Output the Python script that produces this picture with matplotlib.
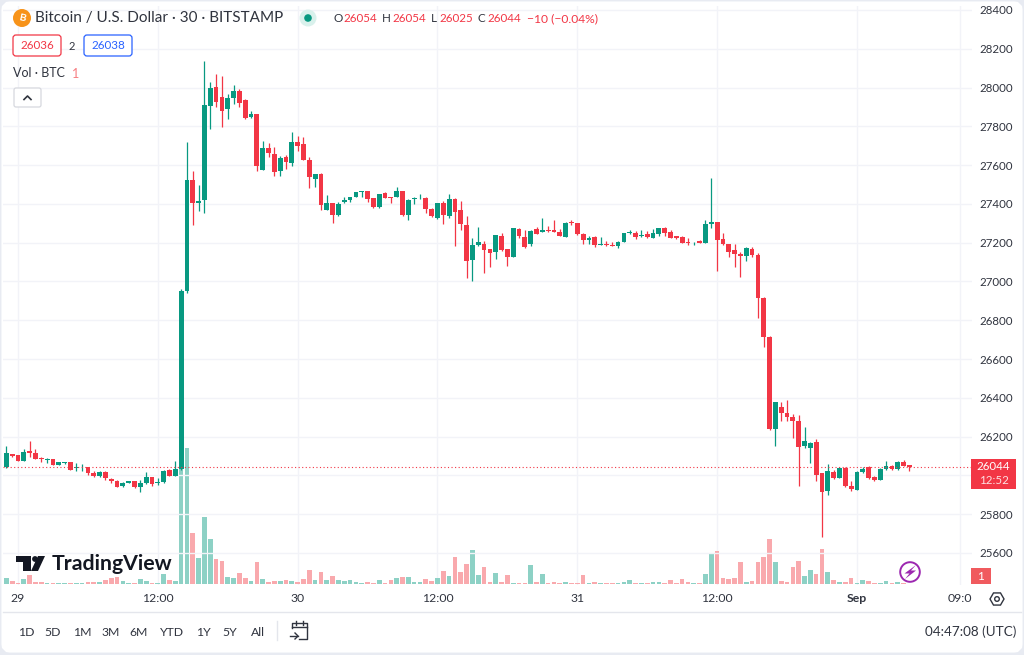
import matplotlib
matplotlib.use("Agg")
import matplotlib.pyplot as plt
from matplotlib.patches import Circle, FancyBboxPatch, Polygon, Rectangle, RegularPolygon
import numpy as np

plt.rcParams["font.family"] = ["Lato", "DejaVu Sans"]

# 30 minute candles, BTC/USD on Bitstamp
opens = [
    26045, 26110, 26103, 26074, 26124, 26114, 26091, 26081, 26083, 26055,
    26064, 26069, 26040, 26041, 26041, 26011, 25995, 26019, 25980, 25973,
    25945, 25962, 25971, 25938, 25959, 25992, 25962, 25964, 26028, 25997,
    26031, 26951, 27524, 27407, 27420, 27907, 28001, 27950, 27888, 27945,
    27983, 27936, 27850, 27864, 27575, 27690, 27659, 27570, 27640, 27613,
    27720, 27709, 27627, 27530, 27556, 27369, 27403, 27341, 27408, 27420,
    27436, 27460, 27465, 27431, 27382, 27455, 27434, 27437, 27465, 27343,
    27424, 27429, 27432, 27376, 27327, 27406, 27339, 27424, 27369, 27291,
    27109, 27186, 27195, 27166, 27150, 27235, 27166, 27128, 27271, 27231,
    27193, 27269, 27255, 27266, 27267, 27257, 27231, 27305, 27300, 27245,
    27216, 27228, 27190, 27193, 27190, 27181, 27205, 27248, 27250, 27235,
    27245, 27224, 27245, 27277, 27254, 27233, 27228, 27202, 27197, 27208,
    27200, 27298, 27305, 27219, 27192, 27161, 27140, 27130, 27169, 27137,
    26915, 26715, 26238, 26353, 26324, 26303, 26282, 26152, 26143, 26171,
    26011, 25920, 26019, 25988, 26040, 25947, 25927, 26017, 26043, 25992,
    25976, 26033, 26050, 26031, 26071, 26054,
]
highs = [
    26151, 26112, 26105, 26134, 26179, 26134, 26096, 26091, 26086, 26071,
    26071, 26071, 26066, 26057, 26045, 26024, 26021, 26024, 25988, 25976,
    25964, 25971, 25973, 25976, 26019, 25993, 25985, 26026, 26035, 26076,
    26960, 27718, 27570, 27498, 28139, 28027, 28070, 28060, 27965, 28013,
    27994, 27940, 27881, 27866, 27726, 27713, 27695, 27645, 27652, 27771,
    27752, 27747, 27640, 27556, 27558, 27446, 27405, 27408, 27437, 27437,
    27464, 27467, 27467, 27433, 27453, 27460, 27437, 27489, 27468, 27425,
    27434, 27450, 27435, 27380, 27406, 27415, 27450, 27428, 27415, 27338,
    27223, 27283, 27209, 27170, 27241, 27248, 27170, 27276, 27274, 27266,
    27265, 27279, 27326, 27288, 27317, 27269, 27305, 27317, 27303, 27248,
    27235, 27235, 27231, 27211, 27205, 27209, 27250, 27264, 27260, 27266,
    27260, 27271, 27278, 27282, 27266, 27236, 27232, 27223, 27206, 27214,
    27317, 27532, 27309, 27248, 27195, 27193, 27150, 27179, 27176, 27145,
    26921, 26719, 26380, 26380, 26389, 26317, 26312, 26251, 26174, 26186,
    26014, 26057, 26028, 26041, 26044, 25971, 26022, 26045, 26047, 25995,
    26036, 26076, 26053, 26076, 26080, 26054,
]
lows = [
    26036, 26096, 26072, 26072, 26093, 26083, 26071, 26066, 26053, 26053,
    26060, 26026, 26024, 26024, 26002, 25993, 25993, 25976, 25962, 25940,
    25940, 25960, 25935, 25912, 25957, 25947, 25950, 25962, 25995, 25995,
    26029, 26940, 27291, 27365, 27352, 27785, 27902, 27799, 27838, 27915,
    27902, 27836, 27842, 27570, 27573, 27640, 27544, 27544, 27579, 27597,
    27673, 27624, 27484, 27489, 27369, 27367, 27300, 27338, 27403, 27412,
    27434, 27437, 27412, 27380, 27380, 27429, 27407, 27435, 27340, 27317,
    27398, 27426, 27355, 27334, 27322, 27295, 27329, 27185, 27266, 27020,
    27004, 27185, 27042, 27076, 27114, 27159, 27080, 27126, 27223, 27173,
    27185, 27243, 27253, 27255, 27253, 27233, 27228, 27291, 27242, 27193,
    27193, 27180, 27186, 27185, 27182, 27174, 27203, 27243, 27217, 27228,
    27225, 27222, 27236, 27236, 27223, 27221, 27197, 27188, 27190, 27198,
    27198, 27274, 27056, 27188, 27128, 27076, 27025, 27107, 27125, 26813,
    26664, 26236, 26150, 26282, 26282, 26191, 25945, 26140, 26062, 25971,
    25684, 25901, 25983, 25984, 25942, 25921, 25923, 26013, 25980, 25973,
    25974, 26029, 26028, 26028, 26047, 26025,
]
closes = [
    26117, 26100, 26074, 26122, 26114, 26086, 26086, 26086, 26055, 26069,
    26069, 26029, 26045, 26045, 26011, 25995, 26019, 25986, 25971, 25942,
    25959, 25969, 25938, 25962, 25990, 25956, 25968, 26024, 25997, 26031,
    26951, 27524, 27403, 27417, 27910, 28000, 27928, 27881, 27945, 27983,
    27922, 27843, 27864, 27596, 27690, 27665, 27567, 27639, 27615, 27721,
    27699, 27627, 27539, 27553, 27395, 27403, 27345, 27400, 27419, 27437,
    27462, 27465, 27424, 27382, 27451, 27432, 27431, 27468, 27343, 27420,
    27431, 27432, 27376, 27336, 27403, 27343, 27425, 27360, 27297, 27106,
    27188, 27202, 27164, 27149, 27238, 27162, 27128, 27274, 27235, 27176,
    27262, 27247, 27264, 27259, 27255, 27236, 27303, 27300, 27245, 27216,
    27226, 27187, 27195, 27188, 27185, 27205, 27248, 27254, 27229, 27240,
    27229, 27248, 27274, 27252, 27226, 27224, 27200, 27197, 27200, 27200,
    27298, 27305, 27216, 27192, 27150, 27142, 27130, 27173, 27138, 26915,
    26715, 26238, 26380, 26321, 26300, 26282, 26148, 26178, 26169, 26004,
    25913, 26023, 25988, 26038, 25945, 25928, 26019, 26035, 25985, 25976,
    26033, 26050, 26031, 26069, 26050, 26044,
]
volumes = [
    17, 10, 4, 14, 27, 7, 6, 3, 3, 3,
    3, 4, 4, 3, 5, 5, 6, 12, 18, 20,
    10, 2, 2, 15, 10, 4, 4, 30, 12, 10,
    360, 407, 152, 77, 202, 134, 75, 68, 22, 19,
    32, 18, 8, 66, 15, 7, 9, 10, 13, 9,
    6, 14, 43, 13, 36, 12, 24, 13, 10, 12,
    7, 4, 7, 4, 13, 2, 13, 17, 20, 22,
    7, 5, 15, 8, 18, 38, 24, 80, 36, 59,
    102, 28, 50, 7, 32, 5, 26, 4, 4, 4,
    56, 6, 30, 2, 6, 4, 7, 4, 3, 28,
    3, 6, 2, 2, 2, 2, 7, 11, 3, 2,
    3, 5, 5, 2, 12, 2, 16, 5, 4, 4,
    30, 92, 98, 17, 16, 18, 67, 6, 9, 65,
    80, 135, 65, 10, 7, 51, 69, 23, 41, 30,
    104, 37, 11, 7, 5, 19, 4, 13, 10, 2,
    2, 10, 4, 5, 3, 1,
]

price_ticks = [25600, 25800, 26000, 26200, 26400, 26600, 26800, 27000,
               27200, 27400, 27600, 27800, 28000, 28200, 28400]
# 26000 sits under the last price tag in the original
price_labels = ["" if p == 26000 else str(p) for p in price_ticks]
time_ticks = [2, 26, 50, 74, 98, 122, 146, 163.7]
time_labels = ["29", "12:00", "30", "12:00", "31", "12:00", "Sep", "09:0"]
range_labels = ["1D", "5D", "1M", "3M", "6M", "YTD", "1Y", "5Y", "All"]

GREEN = "#089981"
RED = "#f23645"
GRID = "#f2f3f8"
TEXT = "#30343f"

W, H = 1024, 655
fig = plt.figure(figsize=(W / 100, H / 100), dpi=100, facecolor="#e8ebf2")


def px_axes(left, top, right, bottom, **kw):
    return fig.add_axes([left / W, 1 - bottom / H, (right - left) / W, (bottom - top) / H], **kw)


# white rounded panel behind everything
bg = fig.add_axes([0, 0, 1, 1], zorder=0)
bg.set_xlim(0, W)
bg.set_ylim(H, 0)
bg.axis("off")
bg.add_patch(FancyBboxPatch((7, 7), 1010, 640, boxstyle="round,pad=0,rounding_size=3",
                            mutation_aspect=1, fc="white", ec="white", lw=8))

opens, highs, lows, closes, volumes = map(np.array, (opens, highs, lows, closes, volumes))
idx = np.arange(len(closes))
up = closes >= opens

# pixel scale of the original: 5.826 px a candle, 38.78 px per 200 USD
xlim = ((3 - 18) / 5.826 + 2, (972 - 18) / 5.826 + 2)
ylim = (28400 - (585 - 10) * 5.157, 28400 + 4 * 5.157)

ax_vol = px_axes(3, 6, 972, 585, zorder=1)
ax_vol.set_xlim(*xlim)
ax_vol.set_ylim(-3, 1734)
ax_vol.bar(idx, volumes, width=0.8, linewidth=0,
           color=np.where(up, "#8dd1c5", "#f9a9ad"))
ax_vol.set_yticks([])
ax_vol.set_xticks(time_ticks)
ax_vol.set_xticklabels(time_labels, fontsize=8.8, color=TEXT)
ax_vol.tick_params(axis="x", length=0, pad=6)
ax_vol.get_xticklabels()[6].set_fontweight("bold")
ax_vol.grid(axis="x", color=GRID, lw=1)
ax_vol.set_axisbelow(True)
for s in ax_vol.spines.values():
    s.set_visible(False)

ax = px_axes(3, 6, 972, 585, zorder=2)
ax.patch.set_alpha(0)
ax.set_xlim(*xlim)
ax.set_ylim(*ylim)
ax.set_xticks([])
ax.set_yticks(price_ticks)
ax.set_yticklabels(price_labels)
ax.yaxis.tick_right()
ax.tick_params(axis="y", length=0, pad=5.5, labelsize=8.3, labelcolor=TEXT)
ax.grid(axis="y", color=GRID, lw=1)
ax.set_axisbelow(True)
for s in ax.spines.values():
    s.set_visible(False)

colors = np.where(up, GREEN, RED)
ax.vlines(idx, lows, highs, colors=colors, lw=0.9)
ax.bar(idx, np.abs(closes - opens), bottom=np.minimum(opens, closes), width=0.82,
       color=colors, linewidth=0)
ax.axhline(closes[-1], color=RED, lw=0.8, ls=(0, (1, 2.2)))

# everything that belongs to the TradingView screen, in pixels
ui = fig.add_axes([0, 0, 1, 1], zorder=3)
ui.set_xlim(0, W)
ui.set_ylim(H, 0)
ui.axis("off")
ui.patch.set_alpha(0)

# header
ui.add_patch(Circle((22, 18), 9, fc="#f7931a", ec="none"))
ui.text(22, 18, "B", color="white", fontsize=7.5, ha="center", va="center",
        fontweight="bold", rotation=-12)
ui.text(35, 18, "Bitcoin / U.S. Dollar · 30 · BITSTAMP", fontsize=11, color=TEXT, va="center")
ui.add_patch(Circle((308, 18), 8.5, fc="#d9f1ec", ec="none"))
ui.add_patch(Circle((308, 18), 3.8, fc=GREEN, ec="none"))
for x, lab in zip([333, 382, 431, 478], "OHLC"):
    ui.text(x, 18.5, lab, fontsize=8.4, color=TEXT, va="center")
for x, val in zip([343, 392, 439, 487], [opens[-1], highs[-1], lows[-1], closes[-1]]):
    ui.text(x, 18.5, str(val), fontsize=8.4, color=RED, va="center")
ui.text(527, 18.5, "−10 (−0.04%)", fontsize=8.7, color=RED, va="center")

ui.add_patch(FancyBboxPatch((13, 35), 48, 21, boxstyle="round,pad=0,rounding_size=3",
                            fc="white", ec=RED, lw=0.9))
ui.text(37, 45.5, "26036", fontsize=8.4, color=RED, ha="center", va="center")
ui.text(72, 46, "2", fontsize=8, color=TEXT, ha="center", va="center")
ui.add_patch(FancyBboxPatch((84, 35), 48, 21, boxstyle="round,pad=0,rounding_size=3",
                            fc="white", ec="#2962ff", lw=0.9))
ui.text(108, 45.5, "26038", fontsize=8.4, color="#2962ff", ha="center", va="center")
ui.text(13, 73, "Vol · BTC", fontsize=9, color=TEXT, va="center")
ui.text(76, 73.5, "1", fontsize=9, color="#f77c80", ha="center", va="center")
ui.add_patch(FancyBboxPatch((14, 88), 27, 19, boxstyle="round,pad=0,rounding_size=2",
                            fc="white", ec="#d6d8de", lw=0.9))
ui.plot([24, 27.5, 31], [99.5, 96, 99.5], color=TEXT, lw=1.2)

# watermark
ui.add_patch(Polygon([(16, 556), (31, 556), (31, 571), (23, 571), (23, 562), (16, 562)], fc="#131722"))
ui.add_patch(Circle((35, 559), 2.9, fc="#131722"))
ui.add_patch(Polygon([(38, 556), (45, 556), (38, 571), (31, 571)], fc="#131722"))
ui.text(52, 564, "TradingView", fontsize=15.3, fontweight="bold", color="#131722", va="center")

# last price tags
ui.add_patch(Rectangle((971, 459), 45, 30, fc=RED, ec="none"))
ui.text(993.5, 467, "26044", fontsize=8.3, color="white", ha="center", va="center")
ui.text(993.5, 481, "12:52", fontsize=8.3, color="#fde0e2", ha="center", va="center")
ui.add_patch(Rectangle((971, 568), 20, 16, fc="#f05a5e", ec="none"))
ui.text(981, 576, "1", fontsize=8.6, color="white", ha="center", va="center")

# lightning badge
ui.add_patch(Circle((910, 572), 9.8, fc="white", ec="#9c27b0", lw=1.4))
ui.add_patch(Polygon([(916, 565), (904.5, 573.5), (909.5, 573.5), (905, 579), (916, 570.5), (911, 570.5)],
                     fc="#9c27b0"))

# settings hexagon
ui.add_patch(RegularPolygon((997, 599), 6, radius=7, fc="none", ec=TEXT, lw=1, orientation=np.pi / 2))
ui.add_patch(Circle((997, 599), 2.3, fc="none", ec=TEXT, lw=1))

# bottom toolbar
ui.plot([3, 1021], [612, 612], color="#e4e6ec", lw=1)
for x, lab in zip([26, 53, 82, 111, 139, 172, 203, 230, 258], range_labels):
    ui.text(x, 632, lab, fontsize=8.8, color=TEXT, ha="center", va="center")
ui.plot([277, 277], [621, 640], color="#e4e6ec", lw=1)
ui.plot([292, 292, 307, 307, 299], [628, 623, 623, 639, 639], color=TEXT, lw=1)
ui.plot([292, 307], [627, 627], color=TEXT, lw=1)
ui.plot([296, 296], [621, 625], color=TEXT, lw=1)
ui.plot([303, 303], [621, 625], color=TEXT, lw=1)
ui.plot([290, 298], [636, 636], color=TEXT, lw=1)
ui.plot([295, 298, 295], [633, 636, 639], color=TEXT, lw=1)
ui.text(1016, 632, "04:47:08 (UTC)", fontsize=9.7, color=TEXT, ha="right", va="center")

fig.savefig("out.png", dpi=100, facecolor=fig.get_facecolor())
